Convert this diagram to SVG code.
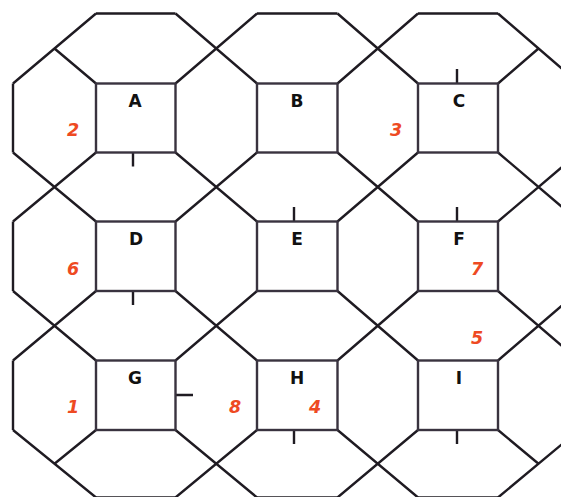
<svg xmlns="http://www.w3.org/2000/svg" width="561" height="497" viewBox="0 0 561 497">
<style>
.ln{fill:none;stroke:#1f1b22;stroke-width:2.4;stroke-linecap:butt;stroke-linejoin:miter}
.sq{fill:none;stroke:#39333f;stroke-width:2.4}
.lab{font-family:"DejaVu Sans",Verdana,sans-serif;font-weight:bold;font-size:17px;fill:#111;text-anchor:middle}
.num{font-family:"DejaVu Sans",Verdana,sans-serif;font-weight:bold;font-style:italic;font-size:17.5px;fill:#ee4a22;text-anchor:middle}
</style>
<rect width="561" height="497" fill="#fff"/>
<g id="connectors" class="ln">
<path d="M96,13.5H175.5M257,13.5H337.5M418,13.5H498"/>
<path d="M13,83.5V152.5M13,221.5V291M13,360.5V430"/>
<path d="M96,497.5H175.5M257,497.5H337.5M418,497.5H498"/>
<path d="M13,83.5L96,13.5M96,83.5L54.5,48.5"/>
<path d="M175.5,13.5L257,83.5M175.5,83.5L257,13.5"/>
<path d="M337.5,13.5L418,83.5M337.5,83.5L418,13.5"/>
<path d="M498,13.5L579,83.5M498,83.5L538.5,48.5"/>
<path d="M13,152.5L96,221.5M13,221.5L96,152.5"/>
<path d="M175.5,152.5L257,221.5M175.5,221.5L257,152.5"/>
<path d="M337.5,152.5L418,221.5M337.5,221.5L418,152.5"/>
<path d="M498,152.5L579,221.5M498,221.5L579,152.5"/>
<path d="M13,291L96,360.5M13,360.5L96,291"/>
<path d="M175.5,291L257,360.5M175.5,360.5L257,291"/>
<path d="M337.5,291L418,360.5M337.5,360.5L418,291"/>
<path d="M498,291L579,360.5M498,360.5L579,291"/>
<path d="M13,430L96,497.5M96,430L54.5,463.75"/>
<path d="M175.5,430L257,497.5M175.5,497.5L257,430"/>
<path d="M337.5,430L418,497.5M337.5,497.5L418,430"/>
<path d="M498,497.5L579,430M498,430L538.5,463.75"/>
<path d="M133,152.5V166.5M457,83.5V69M294,221.5V207M457,221.5V207M133,291V305M175.5,395H193M294,430V444M457,430V444"/>
</g>
<g id="A"><rect class="sq" x="96" y="83.5" width="79.5" height="69"/><text class="lab" x="135" y="106.5">A</text></g>
<g id="B"><rect class="sq" x="257" y="83.5" width="80.5" height="69"/><text class="lab" x="297" y="106.5">B</text></g>
<g id="C"><rect class="sq" x="418" y="83.5" width="80" height="69"/><text class="lab" x="459" y="106.5">C</text></g>
<g id="D"><rect class="sq" x="96" y="221.5" width="79.5" height="69.5"/><text class="lab" x="136" y="244.5">D</text></g>
<g id="E"><rect class="sq" x="257" y="221.5" width="80.5" height="69.5"/><text class="lab" x="297" y="244.5">E</text></g>
<g id="F"><rect class="sq" x="418" y="221.5" width="80" height="69.5"/><text class="lab" x="459" y="244.5">F</text></g>
<g id="G"><rect class="sq" x="96" y="360.5" width="79.5" height="69.5"/><text class="lab" x="135" y="383.5">G</text></g>
<g id="H"><rect class="sq" x="257" y="360.5" width="80.5" height="69.5"/><text class="lab" x="297" y="383.5">H</text></g>
<g id="I"><rect class="sq" x="418" y="360.5" width="80" height="69.5"/><text class="lab" x="459" y="383.5">I</text></g>
<g id="numbers">
<text class="num" x="73" y="136">2</text>
<text class="num" x="396" y="135.5">3</text>
<text class="num" x="73" y="274.5">6</text>
<text class="num" x="477" y="274.5">7</text>
<text class="num" x="477" y="343.5">5</text>
<text class="num" x="73" y="412.5">1</text>
<text class="num" x="235" y="412.5">8</text>
<text class="num" x="315" y="412.5">4</text>
</g>
</svg>
